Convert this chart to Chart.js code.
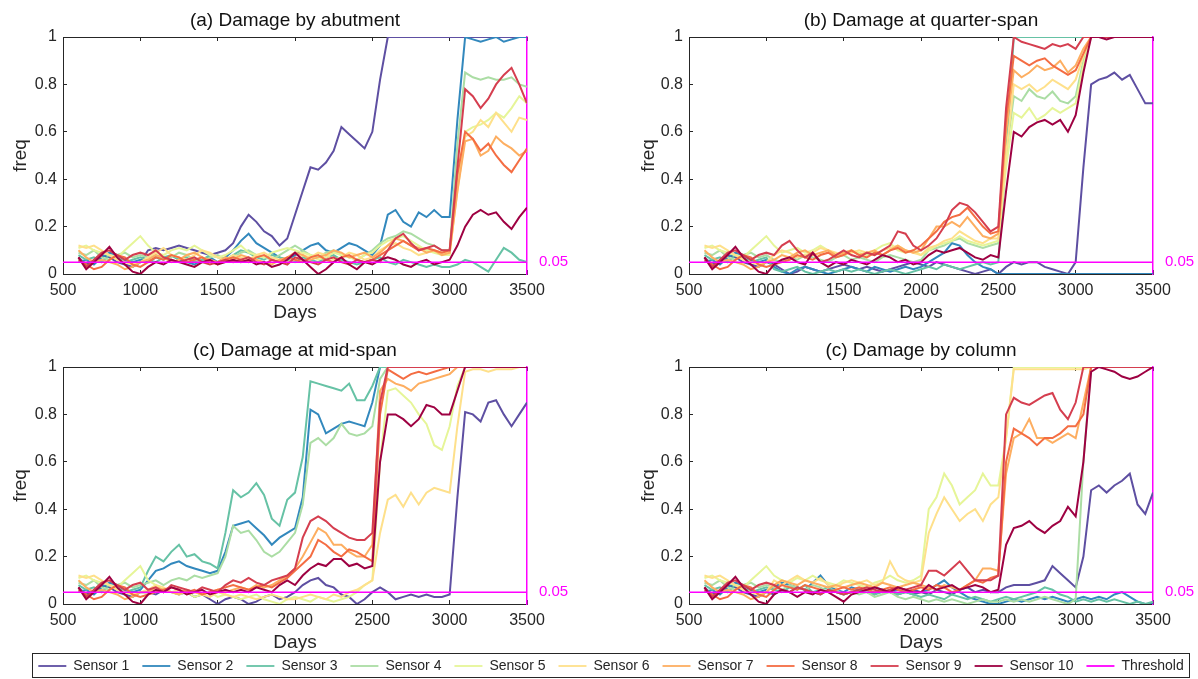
<!DOCTYPE html>
<html><head><meta charset="utf-8">
<script src="https://cdn.jsdelivr.net/npm/chart.js@4.4.1/dist/chart.umd.min.js"></script>
<style>
html,body{margin:0;padding:0;background:#fff;}
#wrap{position:relative;width:1198px;height:679px;overflow:hidden;background:#fff;}
.pnl{position:absolute;}
#legendBox{position:absolute;left:32px;top:653px;width:1158px;height:25px;border:1px solid #262626;box-sizing:border-box;}
#legendCv{position:absolute;left:0;top:646px;}
</style></head><body>
<div id="wrap">
  <canvas class="pnl" id="cA" width="599" height="325" style="left:0;top:0"></canvas>
  <canvas class="pnl" id="cB" width="599" height="325" style="left:599px;top:0"></canvas>
  <canvas class="pnl" id="cC" width="599" height="330" style="left:0;top:325px"></canvas>
  <canvas class="pnl" id="cD" width="599" height="330" style="left:599px;top:325px"></canvas>
  <div id="legendBox"></div>
  <canvas id="legendCv" width="1222" height="90"></canvas>
</div>
<script>
// ---------- DATA ----------
const days = [600,650,700,750,800,850,900,950,1000,1050,1100,1150,1200,1250,1300,1350,1400,1450,1500,1550,1600,1650,1700,1750,1800,1850,1900,1950,2000,2050,2100,2150,2200,2250,2300,2350,2400,2450,2500,2550,2600,2650,2700,2750,2800,2850,2900,2950,3000,3050,3100,3150,3200,3250,3300,3350,3400,3450,3500];
const xTickValues = [500,1000,1500,2000,2500,3000,3500];
const yTickValues = [0,0.2,0.4,0.6,0.8,1];
const thresholdValue = 0.05;
const thresholdLabel = "0.05";
const sensorLabels = ["Sensor 1","Sensor 2","Sensor 3","Sensor 4","Sensor 5","Sensor 6","Sensor 7","Sensor 8","Sensor 9","Sensor 10"];
const thresholdName = "Threshold";
const panelTitles = ["(a) Damage by abutment","(b) Damage at quarter-span","(c) Damage at mid-span","(c) Damage by column"];

// (a) Damage by abutment
const abut1 = [0.07,0.04,0.05,0.08,0.07,0.05,0.04,0.03,0.05, 0.1,0.11,0.1,0.11,0.12,0.11,0.1,0.09,0.08,0.09,0.1, 0.13,0.2,0.25,0.22,0.18,0.16,0.12,0.15, 0.25,0.35,0.45,0.44,0.47,0.52,0.62,0.59,0.56,0.53, 0.6,0.82,1,1,1,1,1,1,1,1, 1,1,1,1,1,1,1,1,1,1,1];
const abut2 = [0.05,0.06,0.04,0.07,0.09,0.08,0.06,0.05,0.06, 0.05,0.07,0.06,0.08,0.06,0.05,0.04,0.06,0.07,0.05,0.07, 0.1,0.14,0.17,0.13,0.11,0.09,0.07,0.06, 0.08,0.1,0.12,0.13,0.1,0.09,0.11,0.13,0.12,0.1, 0.08,0.12,0.25,0.27,0.22,0.2,0.26,0.24,0.27,0.24, 0.24,0.65,1,0.99,0.98,0.99,1,0.98,0.99,1,1];
const abut3 = [0.08,0.06,0.07,0.05,0.08,0.07,0.05,0.06,0.07, 0.06,0.05,0.07,0.08,0.06,0.07,0.05,0.06,0.08,0.07,0.06, 0.08,0.1,0.09,0.07,0.06,0.08,0.07,0.06, 0.05,0.07,0.06,0.05,0.07,0.08,0.06,0.05,0.04,0.05, 0.06,0.07,0.05,0.04,0.06,0.05,0.04,0.03,0.04,0.03, 0.03,0.04,0.06,0.05,0.03,0.01,0.06,0.11,0.09,0.06,0.05];
const abut4 = [0.09,0.08,0.1,0.07,0.06,0.08,0.09,0.07,0.08, 0.07,0.08,0.06,0.07,0.09,0.08,0.06,0.05,0.07,0.08,0.06, 0.07,0.09,0.1,0.08,0.07,0.06,0.08,0.1, 0.12,0.1,0.08,0.07,0.09,0.1,0.08,0.07,0.06,0.08, 0.1,0.13,0.15,0.16,0.18,0.17,0.15,0.13,0.12,0.1, 0.1,0.55,0.85,0.83,0.82,0.83,0.82,0.82,0.83,0.8,0.79];
const abut5 = [0.11,0.12,0.1,0.09,0.08,0.07,0.1,0.13,0.16, 0.12,0.09,0.08,0.1,0.11,0.1,0.12,0.1,0.08,0.07,0.08, 0.1,0.12,0.09,0.08,0.07,0.09,0.1,0.11, 0.1,0.09,0.08,0.06,0.07,0.09,0.08,0.07,0.06,0.08, 0.09,0.12,0.14,0.15,0.16,0.14,0.12,0.1,0.09,0.08, 0.08,0.4,0.6,0.62,0.63,0.65,0.68,0.66,0.7,0.75,0.72];
const abut6 = [0.12,0.11,0.12,0.1,0.08,0.06,0.05,0.04,0.05, 0.07,0.09,0.11,0.08,0.07,0.06,0.08,0.1,0.09,0.07,0.06, 0.08,0.07,0.06,0.08,0.09,0.07,0.06,0.05, 0.06,0.08,0.07,0.09,0.08,0.06,0.07,0.09,0.08,0.06, 0.07,0.1,0.12,0.13,0.11,0.1,0.08,0.09,0.1,0.09, 0.09,0.35,0.58,0.6,0.65,0.62,0.68,0.64,0.6,0.66,0.65];
const abut7 = [0.1,0.07,0.05,0.06,0.05,0.04,0.02,0.03,0.05, 0.06,0.08,0.07,0.05,0.06,0.08,0.09,0.07,0.06,0.05,0.07, 0.06,0.08,0.07,0.06,0.05,0.04,0.06,0.07, 0.09,0.08,0.06,0.07,0.08,0.1,0.09,0.07,0.08,0.09, 0.07,0.09,0.12,0.15,0.14,0.12,0.11,0.09,0.1,0.08, 0.09,0.35,0.56,0.57,0.5,0.52,0.58,0.55,0.53,0.5,0.52];
const abut8 = [0.06,0.04,0.02,0.03,0.06,0.08,0.07,0.04,0.03, 0.05,0.07,0.06,0.08,0.07,0.05,0.06,0.07,0.05,0.04,0.06, 0.07,0.06,0.05,0.07,0.08,0.06,0.05,0.07, 0.06,0.05,0.07,0.08,0.06,0.05,0.07,0.08,0.06,0.05, 0.06,0.08,0.1,0.12,0.14,0.12,0.1,0.11,0.1,0.09, 0.1,0.42,0.6,0.57,0.52,0.55,0.5,0.46,0.43,0.48,0.53];
const abut9 = [0.07,0.03,0.06,0.09,0.1,0.08,0.06,0.08,0.09, 0.08,0.1,0.07,0.06,0.05,0.06,0.07,0.05,0.04,0.05,0.06, 0.05,0.06,0.07,0.05,0.04,0.06,0.05,0.04, 0.07,0.06,0.05,0.04,0.06,0.07,0.05,0.04,0.06,0.05, 0.06,0.05,0.1,0.15,0.17,0.13,0.1,0.11,0.12,0.1, 0.1,0.45,0.78,0.75,0.7,0.74,0.8,0.84,0.87,0.8,0.72];
const abut10 = [0.07,0.02,0.05,0.08,0.115,0.07,0.04,0.01,0, 0.03,0.05,0.04,0.06,0.05,0.04,0.03,0.05,0.06,0.04,0.05, 0.06,0.05,0.06,0.04,0.05,0.03,0.04,0.06, 0.09,0.06,0.03,0,0.02,0.05,0.07,0.04,0.02,0.05, 0.04,0.06,0.07,0.06,0.04,0.03,0.05,0.06,0.04,0.05, 0.06,0.12,0.2,0.25,0.27,0.25,0.26,0.22,0.19,0.24,0.28];

// (b) Damage at quarter-span
const quarter1 = [0.07,0.04,0.05,0.08,0.07,0.05,0.04,0.03,0.05, 0.04,0.02,0,0.01,0.03,0.02,0.01,0.02,0.03,0.04,0.03, 0.02,0.03,0.02,0.01,0.02,0.03,0.04,0.05, 0.04,0.03,0.05,0.04,0.03,0.02,0.01,0,0.01,0.02, 0,0.03,0.05,0.04,0.05,0.05,0.03,0.02,0.01,0, 0.05,0.45,0.8,0.82,0.83,0.85,0.82,0.84,0.78,0.72,0.72];
const quarter2 = [0.05,0.06,0.04,0.07,0.09,0.08,0.06,0.05,0.06, 0.03,0.01,0,0.02,0.03,0.02,0.01,0,0.01,0.02,0.03, 0.02,0.01,0.03,0.02,0.01,0.02,0.03,0.02, 0.03,0.05,0.07,0.09,0.13,0.12,0.08,0.05,0.03,0.02, 0,0,0,0,0,0,0,0,0,0, 0,0,0,0,0,0,0,0,0,0,0];
const quarter3 = [0.08,0.06,0.07,0.05,0.08,0.07,0.05,0.06,0.07, 0.02,0.01,0.02,0.03,0.01,0,0.01,0.02,0.01,0.02,0.01, 0.02,0.01,0,0.01,0.02,0.01,0,0.01, 0.02,0.03,0.02,0.04,0.03,0.02,0.03,0.04,0.05,0.04, 0.05,0.5,1,1,1,1,1,1,1,1, 1,1,1,1,1,1,1,1,1,1,1];
const quarter4 = [0.09,0.08,0.1,0.07,0.06,0.08,0.09,0.07,0.08, 0.06,0.05,0.07,0.06,0.08,0.07,0.06,0.05,0.07,0.08,0.06, 0.07,0.06,0.05,0.07,0.08,0.07,0.06,0.05, 0.06,0.1,0.11,0.12,0.14,0.15,0.13,0.12,0.11,0.12, 0.13,0.5,0.75,0.73,0.78,0.75,0.74,0.77,0.73,0.72, 0.75,0.9,1,1,1,1,1,1,1,1,1];
const quarter5 = [0.11,0.12,0.1,0.09,0.08,0.07,0.1,0.13,0.16, 0.12,0.09,0.1,0.11,0.09,0.1,0.12,0.1,0.08,0.09,0.1, 0.09,0.08,0.1,0.12,0.13,0.1,0.09,0.1, 0.08,0.1,0.12,0.13,0.14,0.16,0.14,0.13,0.12,0.13, 0.14,0.45,0.68,0.66,0.7,0.65,0.67,0.7,0.68,0.7, 0.72,0.88,1,1,1,1,1,1,1,1,1];
const quarter6 = [0.12,0.11,0.12,0.1,0.08,0.06,0.05,0.04,0.05, 0.08,0.1,0.09,0.07,0.08,0.09,0.11,0.1,0.09,0.08,0.09, 0.1,0.09,0.08,0.1,0.11,0.12,0.1,0.09, 0.08,0.11,0.12,0.14,0.15,0.18,0.16,0.14,0.13,0.15, 0.15,0.5,0.8,0.78,0.8,0.77,0.79,0.82,0.8,0.78, 0.82,0.92,1,1,1,1,1,1,1,1,1];
const quarter7 = [0.1,0.07,0.05,0.06,0.05,0.04,0.02,0.03,0.05, 0.06,0.08,0.07,0.09,0.1,0.08,0.09,0.1,0.08,0.09,0.1, 0.08,0.09,0.1,0.08,0.1,0.12,0.1,0.09, 0.1,0.15,0.2,0.2,0.22,0.2,0.24,0.2,0.16,0.15, 0.17,0.6,0.86,0.83,0.85,0.88,0.86,0.87,0.9,0.85, 0.88,0.95,1,1,1,1,1,1,1,1,1];
const quarter8 = [0.06,0.04,0.02,0.03,0.06,0.08,0.07,0.04,0.03, 0.04,0.05,0.06,0.08,0.07,0.06,0.08,0.09,0.07,0.08,0.1, 0.08,0.07,0.09,0.08,0.1,0.11,0.09,0.1, 0.12,0.15,0.18,0.22,0.24,0.25,0.28,0.24,0.2,0.17, 0.18,0.65,0.92,0.9,0.88,0.9,0.91,0.88,0.86,0.84, 0.86,0.93,1,1,1,1,1,1,1,1,1];
const quarter9 = [0.07,0.03,0.06,0.09,0.1,0.08,0.06,0.08,0.09, 0.08,0.12,0.14,0.1,0.07,0.09,0.05,0.06,0.08,0.1,0.08, 0.07,0.09,0.08,0.1,0.12,0.18,0.17,0.12, 0.1,0.12,0.15,0.2,0.27,0.3,0.29,0.26,0.22,0.18, 0.2,0.7,1,0.98,0.97,0.96,0.95,0.97,0.96,0.97, 0.95,1,1,1,1,1,1,1,1,1,1];
const quarter10 = [0.07,0.02,0.05,0.08,0.115,0.07,0.04,0.01,0, 0.04,0.06,0.07,0.05,0.04,0.09,0.05,0.03,0.05,0.04,0.06, 0.05,0.04,0.06,0.08,0.07,0.05,0.06,0.04, 0.05,0.08,0.1,0.09,0.1,0.11,0.09,0.07,0.06,0.08, 0.07,0.35,0.6,0.58,0.62,0.64,0.65,0.63,0.65,0.6, 0.67,0.85,1,1,0.99,1,1,1,1,1,1];

// (c) Damage at mid-span
const mid1 = [0.07,0.04,0.05,0.08,0.07,0.05,0.04,0.03,0.05, 0.05,0.04,0.06,0.05,0.04,0.05,0.03,0.04,0.02,0,0.02, 0.03,0.02,0,0.01,0.03,0.04,0.02,0.03, 0.05,0.08,0.1,0.11,0.08,0.07,0.04,0.03,0,0.02, 0.05,0.07,0.05,0.02,0.03,0.04,0.03,0.04,0.03,0.03, 0.04,0.45,0.81,0.8,0.77,0.85,0.86,0.8,0.75,0.8,0.85];
const mid2 = [0.05,0.06,0.04,0.07,0.09,0.08,0.06,0.05,0.06, 0.1,0.14,0.15,0.17,0.18,0.16,0.15,0.14,0.13,0.14,0.22, 0.33,0.34,0.35,0.32,0.29,0.25,0.28,0.3, 0.32,0.45,0.82,0.8,0.72,0.74,0.76,0.77,0.76,0.75, 0.85,1,1,1,1,1,1,1,1,1, 1,1,1,1,1,1,1,1,1,1,1];
const mid3 = [0.08,0.06,0.07,0.05,0.08,0.07,0.05,0.06,0.07, 0.14,0.2,0.18,0.22,0.25,0.2,0.21,0.18,0.17,0.15,0.3, 0.48,0.45,0.47,0.51,0.46,0.36,0.33,0.44, 0.47,0.62,0.94,0.93,0.92,0.91,0.9,0.93,0.86,0.86, 0.92,1,1,1,1,1,1,1,1,1, 1,1,1,1,1,1,1,1,1,1,1];
const mid4 = [0.09,0.08,0.1,0.07,0.06,0.08,0.09,0.07,0.08, 0.09,0.1,0.08,0.1,0.11,0.1,0.12,0.11,0.12,0.13,0.2, 0.33,0.3,0.31,0.27,0.22,0.2,0.22,0.26, 0.3,0.42,0.68,0.7,0.67,0.7,0.76,0.72,0.71,0.72, 0.75,0.95,1,1,1,1,1,1,1,1, 1,1,1,1,1,1,1,1,1,1,1];
const mid5 = [0.11,0.12,0.1,0.09,0.08,0.07,0.1,0.13,0.16, 0.1,0.08,0.06,0.05,0.04,0.05,0.03,0.04,0.05,0.03,0.04, 0.03,0.02,0.03,0.04,0.02,0.01,0,0.02, 0.03,0.02,0.01,0.03,0.02,0.01,0.02,0.03,0.05,0.08, 0.1,0.6,0.9,0.91,0.88,0.85,0.8,0.76,0.67,0.65, 0.75,0.92,1,1,1,1,1,1,1,1,1];
const mid6 = [0.12,0.11,0.12,0.1,0.08,0.06,0.05,0.04,0.05, 0.06,0.08,0.07,0.05,0.06,0.04,0.05,0.04,0.03,0.05,0.04, 0.03,0.04,0.03,0.02,0.03,0.04,0.03,0.02, 0.02,0.03,0.04,0.03,0.02,0.04,0.03,0.05,0.06,0.08, 0.1,0.3,0.44,0.46,0.41,0.47,0.42,0.47,0.49,0.48, 0.47,0.75,0.98,0.99,0.99,0.98,0.99,0.99,0.99,1,1];
const mid7 = [0.1,0.07,0.05,0.06,0.05,0.04,0.02,0.03,0.05, 0.05,0.07,0.06,0.05,0.04,0.06,0.05,0.04,0.05,0.06,0.05, 0.06,0.07,0.06,0.08,0.07,0.08,0.1,0.12, 0.15,0.2,0.26,0.32,0.3,0.25,0.25,0.22,0.2,0.2, 0.25,0.9,0.95,0.93,0.92,0.9,0.93,0.94,0.95,0.96, 0.97,1,1,1,1,1,1,1,1,1,1];
const mid8 = [0.06,0.04,0.02,0.03,0.06,0.08,0.07,0.04,0.03, 0.04,0.05,0.06,0.07,0.06,0.05,0.06,0.04,0.05,0.06,0.07, 0.08,0.07,0.06,0.07,0.08,0.07,0.09,0.11, 0.14,0.17,0.2,0.27,0.25,0.22,0.2,0.23,0.22,0.2, 0.18,0.8,0.99,0.97,0.95,0.97,0.98,0.97,0.98,0.99, 1,1,1,1,1,1,1,1,1,1,1];
const mid9 = [0.07,0.03,0.06,0.09,0.1,0.08,0.06,0.08,0.09, 0.06,0.07,0.05,0.08,0.07,0.06,0.05,0.07,0.06,0.05,0.08, 0.1,0.09,0.11,0.09,0.08,0.1,0.11,0.12, 0.15,0.28,0.35,0.37,0.35,0.32,0.3,0.28,0.27,0.27, 0.3,0.85,1,1,1,1,1,1,1,1, 1,1,1,1,1,1,1,1,1,1,1];
const mid10 = [0.07,0.02,0.05,0.08,0.115,0.07,0.04,0.01,0, 0.04,0.06,0.05,0.07,0.06,0.04,0.05,0.06,0.04,0.05,0.06, 0.05,0.06,0.05,0.07,0.06,0.05,0.08,0.1, 0.08,0.12,0.15,0.17,0.16,0.19,0.19,0.16,0.17,0.15, 0.16,0.6,0.8,0.8,0.78,0.75,0.78,0.84,0.83,0.8, 0.8,0.9,1,1,1,1,1,1,1,1,1];

// (d) Damage by column
const column1 = [0.07,0.04,0.05,0.08,0.07,0.05,0.04,0.03,0.05, 0.04,0.06,0.05,0.07,0.06,0.05,0.04,0.06,0.05,0.04,0.05, 0.06,0.05,0.04,0.06,0.05,0.04,0.05,0.06, 0.05,0.04,0.06,0.05,0.04,0.06,0.07,0.05,0.06,0.05, 0.05,0.07,0.08,0.08,0.08,0.09,0.1,0.16,0.13,0.1, 0.07,0.2,0.48,0.5,0.47,0.5,0.52,0.55,0.42,0.38,0.47];
const column2 = [0.05,0.06,0.04,0.07,0.09,0.08,0.06,0.05,0.06, 0.07,0.09,0.08,0.07,0.06,0.09,0.12,0.08,0.06,0.05,0.07, 0.06,0.05,0.07,0.06,0.05,0.06,0.05,0.04, 0.05,0.06,0.08,0.1,0.07,0.05,0.03,0.02,0.01,0, 0,0.01,0.02,0.01,0.02,0.03,0.02,0.03,0.02,0.01, 0.02,0.03,0.02,0.03,0.02,0.04,0.05,0.03,0.01,0,0];
const column3 = [0.08,0.06,0.07,0.05,0.08,0.07,0.05,0.06,0.07, 0.06,0.05,0.07,0.06,0.08,0.05,0.06,0.07,0.05,0.04,0.05, 0.06,0.05,0.04,0.05,0.06,0.04,0.05,0.04, 0.03,0.04,0.03,0.02,0.04,0.03,0.02,0.03,0.02,0.01, 0.02,0.03,0.02,0.03,0.04,0.05,0.07,0.06,0.04,0.03, 0.01,0.02,0.01,0.02,0.01,0.02,0.01,0,0.01,0,0.01];
const column4 = [0.09,0.08,0.1,0.07,0.06,0.08,0.09,0.07,0.08, 0.07,0.06,0.08,0.07,0.06,0.08,0.07,0.05,0.06,0.04,0.05, 0.04,0.05,0.03,0.04,0.05,0.03,0.02,0.03, 0.02,0.01,0.02,0.01,0.02,0.01,0,0.01,0.02,0.01, 0.01,0.02,0.01,0.02,0.01,0.02,0.03,0.02,0.01,0, 0.02,0.6,1,1,1,1,1,1,1,1,1];
const column5 = [0.11,0.12,0.1,0.09,0.08,0.07,0.1,0.13,0.16, 0.12,0.1,0.09,0.11,0.1,0.12,0.1,0.09,0.08,0.1,0.09, 0.08,0.07,0.09,0.1,0.12,0.1,0.09,0.1, 0.12,0.4,0.45,0.55,0.5,0.42,0.45,0.48,0.55,0.5, 0.5,0.7,1,1,1,1,1,1,1,1, 1,1,1,1,1,1,1,1,1,1,1];
const column6 = [0.12,0.11,0.12,0.1,0.08,0.06,0.05,0.04,0.05, 0.1,0.08,0.1,0.12,0.1,0.09,0.11,0.08,0.07,0.09,0.1, 0.09,0.1,0.08,0.09,0.18,0.12,0.1,0.09, 0.1,0.3,0.38,0.45,0.4,0.35,0.38,0.4,0.35,0.42, 0.45,0.7,0.99,0.99,0.99,0.99,0.99,0.99,0.99,0.99, 0.99,0.99,1,1,1,1,1,1,1,1,1];
const column7 = [0.1,0.07,0.05,0.06,0.05,0.04,0.02,0.03,0.05, 0.08,0.1,0.09,0.08,0.1,0.09,0.08,0.07,0.08,0.07,0.08, 0.09,0.08,0.07,0.09,0.08,0.07,0.08,0.09, 0.08,0.07,0.06,0.08,0.07,0.06,0.08,0.1,0.15,0.15, 0.14,0.55,0.7,0.72,0.78,0.7,0.7,0.68,0.7,0.72, 0.7,0.85,1,1,1,1,1,1,1,1,1];
const column8 = [0.06,0.04,0.02,0.03,0.06,0.08,0.07,0.04,0.03, 0.06,0.08,0.07,0.06,0.08,0.07,0.06,0.05,0.06,0.07,0.06, 0.07,0.06,0.05,0.06,0.07,0.06,0.05,0.06, 0.07,0.06,0.08,0.07,0.05,0.06,0.08,0.1,0.09,0.11, 0.12,0.6,0.74,0.72,0.7,0.67,0.7,0.7,0.72,0.75, 0.75,0.8,1,1,1,1,1,1,1,1,1];
const column9 = [0.07,0.03,0.06,0.09,0.1,0.08,0.06,0.08,0.09, 0.08,0.06,0.05,0.07,0.06,0.05,0.04,0.06,0.05,0.04,0.05, 0.06,0.07,0.06,0.05,0.06,0.07,0.06,0.07, 0.08,0.14,0.14,0.12,0.15,0.18,0.14,0.1,0.1,0.1, 0.12,0.8,0.87,0.85,0.84,0.86,0.88,0.89,0.82,0.78, 0.85,1,1,1,1,1,1,1,1,1,1];
const column10 = [0.07,0.02,0.05,0.08,0.115,0.07,0.04,0.01,0, 0.04,0.06,0.05,0.03,0.05,0.04,0.06,0.05,0.03,0.01,0.04, 0.05,0.06,0.07,0.06,0.05,0.07,0.06,0.05, 0.05,0.08,0.06,0.07,0.08,0.06,0.07,0.08,0.07,0.05, 0.06,0.25,0.32,0.33,0.35,0.32,0.3,0.33,0.35,0.41, 0.37,0.6,0.98,1,0.99,0.98,0.96,0.95,0.96,0.98,1];

// ---------- STYLE ----------
const sensorColors = ["#5e4fa2","#3288bd","#66c2a5","#abdda4","#e6f598","#fee08b","#fdae61","#f46d43","#d53e4f","#9e0142"];
const thresholdColor = "#ff00ff";
const axisColor = "#262626";
const FONT = "'Liberation Sans', Arial, Helvetica, sans-serif";
Chart.defaults.font.family = FONT;
Chart.defaults.color = axisColor;

function panel(canvasId, title, series, g) {
  const datasets = series.map((vals, k) => ({
    label: sensorLabels[k],
    data: days.map((d, i) => ({x: d, y: vals[i]})),
    borderColor: sensorColors[k],
    backgroundColor: sensorColors[k],
    borderWidth: 2,
    pointRadius: 0,
    tension: 0,
    order: 10 - k + 1,
    xAxisID: 'x', yAxisID: 'y'
  }));
  datasets.push({
    label: thresholdName,
    data: [{x: xTickValues[0], y: thresholdValue}, {x: xTickValues[xTickValues.length - 1], y: thresholdValue}],
    borderColor: thresholdColor, backgroundColor: thresholdColor,
    borderWidth: 1.5, pointRadius: 0, order: 0, xAxisID: 'x', yAxisID: 'y'
  });
  const xmin = xTickValues[0], xmax = xTickValues[xTickValues.length - 1];
  const ymin = yTickValues[0], ymax = yTickValues[yTickValues.length - 1];
  const setX = s => { s.ticks = xTickValues.map(v => ({value: v})); };
  const setY = s => { s.ticks = yTickValues.map(v => ({value: v})); };
  return new Chart(document.getElementById(canvasId), {
    type: 'line',
    data: {datasets},
    options: {
      responsive: false, animation: false, devicePixelRatio: 1,
      layout: {padding: 0},
      plugins: {legend: {display: false}, tooltip: {enabled: false}, title: {display: false}},
      scales: {
        x: {
          type: 'linear', position: 'bottom', min: xmin, max: xmax,
          afterBuildTicks: setX,
          afterFit: s => { s.height = g.bottomH; },
          ticks: {font: {size: 16}, color: axisColor, padding: 11, maxRotation: 0, autoSkip: false, callback: v => String(v)},
          grid: {display: true, drawOnChartArea: false, drawTicks: true, tickLength: -4, color: axisColor},
          border: {display: true, color: axisColor, width: 1},
          title: {display: true, text: 'Days', font: {size: 19}, color: axisColor, padding: {top: 0, bottom: 0.6}}
        },
        x2: {
          type: 'linear', position: 'top', axis: 'x', min: xmin, max: xmax,
          afterBuildTicks: setX,
          afterFit: s => { s.height = g.topH; },
          ticks: {display: false},
          grid: {display: true, drawOnChartArea: false, drawTicks: true, tickLength: -4, color: axisColor},
          border: {display: true, color: axisColor, width: 1},
          title: {display: true, text: title, font: {size: 19}, color: '#111', padding: {top: g.titlePad, bottom: 0}}
        },
        y: {
          type: 'linear', position: 'left', min: ymin, max: ymax,
          afterBuildTicks: setY,
          afterFit: s => { s.width = g.leftW; },
          ticks: {font: {size: 16}, color: axisColor, padding: 10, callback: v => String(Math.round(v * 10) / 10)},
          grid: {display: true, drawOnChartArea: false, drawTicks: true, tickLength: -4, color: axisColor},
          border: {display: true, color: axisColor, width: 1},
          title: {display: true, text: 'freq', font: {size: 19}, color: axisColor, padding: {top: g.freqPad, bottom: 0}}
        },
        y2: {
          type: 'linear', position: 'right', axis: 'y', min: ymin, max: ymax,
          afterBuildTicks: s => { s.ticks = [{value: thresholdValue}]; },
          afterFit: s => { s.width = g.rightW; },
          ticks: {font: {size: 15}, color: thresholdColor, padding: 4, callback: () => thresholdLabel},
          grid: {display: false},
          border: {display: true, color: thresholdColor, width: 1.5}
        }
      }
    }
  });
}

panel('cA', panelTitles[0], [abut1,abut2,abut3,abut4,abut5,abut6,abut7,abut8,abut9,abut10],
  {leftW: 63, rightW: 72, topH: 37, bottomH: 51, titlePad: 9.6, freqPad: 9.6});
panel('cB', panelTitles[1], [quarter1,quarter2,quarter3,quarter4,quarter5,quarter6,quarter7,quarter8,quarter9,quarter10],
  {leftW: 90, rightW: 45, topH: 37, bottomH: 51, titlePad: 9.6, freqPad: 38});
panel('cC', panelTitles[2], [mid1,mid2,mid3,mid4,mid5,mid6,mid7,mid8,mid9,mid10],
  {leftW: 63, rightW: 72, topH: 42, bottomH: 51, titlePad: 14.6, freqPad: 9.6});
panel('cD', panelTitles[3], [column1,column2,column3,column4,column5,column6,column7,column8,column9,column10],
  {leftW: 90, rightW: 45, topH: 42, bottomH: 51, titlePad: 14.6, freqPad: 38});

// Legend (shared)
const legendSets = sensorLabels.map((lab, k) => ({label: lab, data: [], borderColor: sensorColors[k], backgroundColor: sensorColors[k], borderWidth: 1.8}));
legendSets.push({label: thresholdName, data: [], borderColor: thresholdColor, backgroundColor: thresholdColor, borderWidth: 1.8});
new Chart(document.getElementById('legendCv'), {
  type: 'line',
  data: {datasets: legendSets},
  options: {
    responsive: false, animation: false, devicePixelRatio: 1,
    layout: {padding: 0},
    scales: {x: {display: false}, y: {display: false}},
    plugins: {
      tooltip: {enabled: false},
      legend: {display: true, position: 'top', align: 'center', maxHeight: 60,
        labels: {usePointStyle: true, pointStyle: 'line', pointStyleWidth: 28, boxHeight: 14,
          font: {size: 14}, color: axisColor, padding: 13,
          sort: (a, b) => a.datasetIndex - b.datasetIndex}}
    }
  }
});
</script>
</body></html>
